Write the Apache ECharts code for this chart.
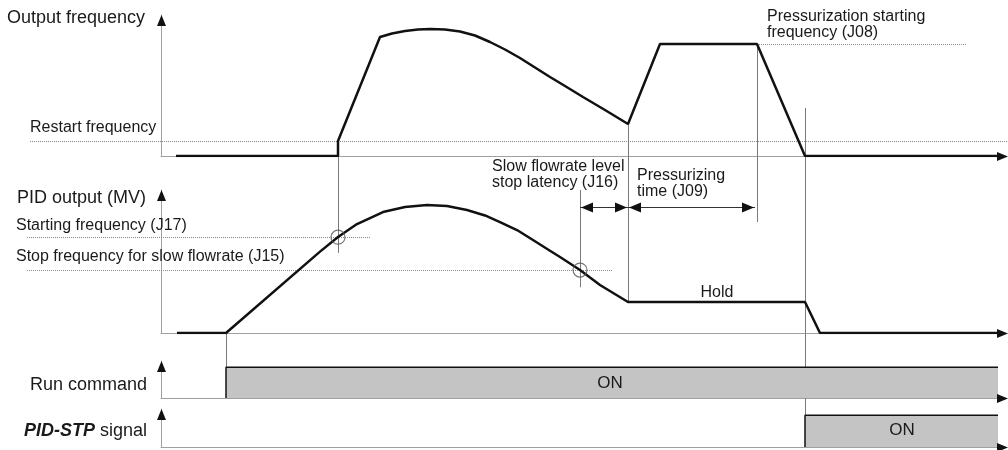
<!DOCTYPE html>
<html>
<head>
<meta charset="utf-8">
<script src="https://cdn.jsdelivr.net/npm/echarts@6/dist/echarts.min.js"></script>
<style>
html, body { margin: 0; padding: 0; background: #fff; }
#chart { width: 1008px; height: 450px; }
</style>
</head>
<body>
<div id="chart"></div>
<script>
// shared time axis (s)
const timeMax = 84.4

// output frequency, [time, Hz]
const outputFreq = [
  [1.5, 0], [17.7, 0], [17.7, 6], [21.9, 47.6], [23.1, 49], [24.4, 50], [25.7, 50.6],
  [26.9, 50.8], [28.4, 50.6], [29.9, 49.8], [31.4, 48.2], [32.9, 45.6], [34.4, 42.6],
  [35.9, 39.2], [37.4, 35.4], [38.9, 31.6], [40.4, 28], [42.2, 23.6], [44.4, 18.4],
  [46.7, 12.8], [49.9, 44.8], [59.6, 44.8], [64.4, 0], [84, 0]
]

// PID output (MV), [time, %]
const pidOutput = [
  [1.6, 0], [6.5, 0], [15.9, 56.9], [17.7, 67.1], [19.6, 76.2], [22.2, 84.6], [24.4, 88.1],
  [26.6, 89.5], [28.6, 88.8], [30.6, 86], [32.4, 82.2], [33.9, 77.6], [35.6, 72],
  [37.2, 65], [38.7, 58.4], [39.9, 53.1], [41.9, 44.1], [43.9, 33.6], [46.7, 21.7],
  [64.4, 21.7], [65.9, 0], [84, 0]
]

// on/off signals
const runCommand = [[6.5, 0], [6.5, 1], [83.7, 1]]
const pidStpSignal = [[64.4, 0], [64.4, 1], [83.7, 1]]

// setting levels
const restartFreq = 6
const j08Freq = 44.8
const j17Level = 67
const j15Level = 44

// dotted level lines: [grid, level, tStart, tEnd]
const levelLines = [
  [0, restartFreq, -13.1, 84.7],
  [0, j08Freq, 59.6, 80.6],
  [1, j17Level, -13.4, 20.9],
  [1, j15Level, -13.4, 45.1]
]

// crossing circles on PID output
const crossings = [[17.7, j17Level], [41.9, j15Level]]

// J16 and J09 time spans, drawn at PID level 88
const spans = [[41.9, 46.7], [46.7, 59.4]]
const spanLevel = 88

// vertical guides: time, [grid, value] from, [grid, value] to
const guides = [
  [6.5, [1, 0], [2, 1]],
  [17.7, [0, restartFreq], [1, 56]],
  [41.9, [1, 100], [1, 32]],
  [46.7, [0, 12.8], [1, 21.7]],
  [59.6, [0, j08Freq], [1, 77.6]],
  [64.4, [0, 19.2], [3, 0]]
]

const yMax = [56.4, 100, 1.2, 1.2]
const font = '"Liberation Sans", Arial, sans-serif'
const ink = '#1a1a1a'

const myChart = echarts.init(document.getElementById('chart'))

const grids = [
  { left: 161, right: 3, top: 15, height: 141 },
  { left: 161, right: 3, top: 190, height: 143 },
  { left: 161, right: 3, top: 361, height: 37 },
  { left: 161, right: 3, top: 409, height: 38 }
]

const axisBase = {
  type: 'value',
  axisLine: { show: true, lineStyle: { color: '#a0a0a0', width: 1 } },
  axisTick: { show: false },
  axisLabel: { show: false },
  splitLine: { show: false }
}

const series = [
  {
    type: 'line', xAxisIndex: 0, yAxisIndex: 0, data: outputFreq,
    symbol: 'none', z: 5, lineStyle: { color: '#111', width: 2.5 }
  },
  {
    type: 'line', xAxisIndex: 1, yAxisIndex: 1, data: pidOutput,
    symbol: 'none', z: 5, lineStyle: { color: '#111', width: 2.5 }
  },
  {
    type: 'line', xAxisIndex: 2, yAxisIndex: 2, data: runCommand,
    symbol: 'none', z: 3, lineStyle: { color: '#111', width: 1.5 },
    areaStyle: { color: '#c4c4c4', opacity: 1 }
  },
  {
    type: 'line', xAxisIndex: 3, yAxisIndex: 3, data: pidStpSignal,
    symbol: 'none', z: 3, lineStyle: { color: '#111', width: 1.5 },
    areaStyle: { color: '#c4c4c4', opacity: 1 }
  },
  {
    type: 'scatter', xAxisIndex: 1, yAxisIndex: 1, data: crossings,
    symbol: 'circle', symbolSize: 14, z: 6,
    itemStyle: { color: 'rgba(0,0,0,0)', borderColor: '#555', borderWidth: 1.2 }
  }
]

myChart.setOption({
  animation: false,
  backgroundColor: '#fff',
  grid: grids,
  xAxis: grids.map((g, i) => ({ ...axisBase, gridIndex: i, min: 0, max: timeMax })),
  yAxis: grids.map((g, i) => ({ ...axisBase, gridIndex: i, min: 0, max: yMax[i] })),
  series: series
})

// labels
const texts = [
  { text: 'Output frequency', x: 7, y: 18, size: 18 },
  { text: 'Restart frequency', x: 30, y: 128, size: 16 },
  { text: 'PID output (MV)', x: 17, y: 198, size: 18 },
  { text: 'Starting frequency (J17)', x: 16, y: 226, size: 16 },
  { text: 'Stop frequency for slow flowrate (J15)', x: 16, y: 257, size: 16 },
  { text: 'Run command', x: 147, y: 385, size: 18, align: 'right' },
  { text: '{b|PID-STP} signal', x: 147, y: 431, size: 18, align: 'right', rich: true },
  { text: 'Slow flowrate level\nstop latency (J16)', x: 492, y: 175, size: 16 },
  { text: 'Pressurizing\ntime (J09)', x: 637, y: 184, size: 16 },
  { text: 'Hold', x: 717, y: 293, size: 16, align: 'center' },
  { text: 'Pressurization starting\nfrequency (J08)', x: 767, y: 25, size: 16 },
  { text: 'ON', x: 610, y: 383, size: 17, align: 'center' },
  { text: 'ON', x: 902, y: 430, size: 17, align: 'center' }
]

const graphic = texts.map(t => {
  const style = {
    text: t.text,
    font: `${t.size}px ${font}`,
    fill: ink,
    align: t.align || 'left',
    verticalAlign: 'middle',
    lineHeight: 16
  }
  if (t.rich) {
    style.rich = { b: { font: `italic bold ${t.size}px ${font}`, fill: ink } }
  }
  return { type: 'text', x: t.x, y: t.y, z: 10, style: style }
})

const px = (g, t, v) => myChart.convertToPixel({ gridIndex: g }, [t, v])
const crisp = n => Math.round(n) + 0.5

// dotted setting levels (they run left past the axes)
levelLines.forEach(l => {
  const a = px(l[0], l[2], l[1])
  const b = px(l[0], l[3], l[1])
  graphic.push({
    type: 'line', z: 1,
    shape: { x1: a[0], y1: crisp(a[1]), x2: b[0], y2: crisp(b[1]) },
    style: { stroke: '#8a8a8a', lineWidth: 1, lineDash: [1, 1] }
  })
})

guides.forEach(gd => {
  const a = px(gd[1][0], gd[0], gd[1][1])
  const b = px(gd[2][0], gd[0], gd[2][1])
  graphic.push({
    type: 'line', z: 1,
    shape: { x1: crisp(a[0]), y1: a[1], x2: crisp(b[0]), y2: b[1] },
    style: { stroke: '#7a7a7a', lineWidth: 1 }
  })
})

// J16 / J09 dimension arrows
spans.forEach(s => {
  const a = px(1, s[0], spanLevel)
  const b = px(1, s[1], spanLevel)
  const y = crisp(a[1])
  graphic.push({
    type: 'line', z: 8,
    shape: { x1: a[0], y1: y, x2: b[0], y2: y },
    style: { stroke: '#333', lineWidth: 1 }
  })
  graphic.push({
    type: 'polygon', z: 9,
    shape: { points: [[a[0] + 1, y], [a[0] + 13, y - 5], [a[0] + 13, y + 5]] },
    style: { fill: '#111' }
  })
  graphic.push({
    type: 'polygon', z: 9,
    shape: { points: [[b[0] - 1, y], [b[0] - 13, y - 5], [b[0] - 13, y + 5]] },
    style: { fill: '#111' }
  })
})

// black arrow heads at the axis ends
grids.forEach((g, i) => {
  const top = px(i, 0, yMax[i])
  const right = px(i, timeMax, 0)
  const x = crisp(top[0])
  graphic.push({
    type: 'polygon', z: 10,
    shape: { points: [[x, top[1]], [x - 4.5, top[1] + 11], [x + 4.5, top[1] + 11]] },
    style: { fill: '#111' }
  })
  const y = crisp(right[1])
  graphic.push({
    type: 'polygon', z: 10,
    shape: { points: [[right[0] + 3, y], [right[0] - 8, y - 4.5], [right[0] - 8, y + 4.5]] },
    style: { fill: '#111' }
  })
})

myChart.setOption({ graphic: graphic })
</script>
</body>
</html>
